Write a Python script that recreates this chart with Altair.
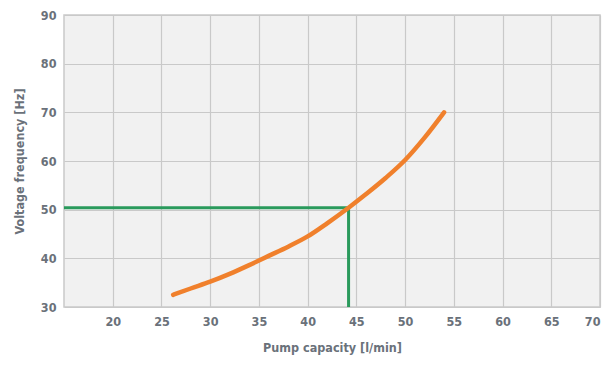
import altair as alt
import pandas as pd

# Orange curve: pump capacity [l/min] vs voltage frequency [Hz]
capacity = [26.2, 28, 30, 32, 34, 36, 38, 40, 42, 44.2, 46, 48, 50, 52, 54]
frequency = [32.5, 33.8, 35.2, 36.8, 38.6, 40.5, 42.4, 44.5, 47.2, 50.4, 53.2, 56.5, 60.2, 64.8, 70.0]

# Green marker lines (operating point)
op_capacity = [15, 44.2, 44.2]
op_frequency = [50.4, 50.4, 30]

x_ticks = [20, 25, 30, 35, 40, 45, 50, 55, 60, 65, 70]
y_ticks = [30, 40, 50, 60, 70, 80, 90]

curve_df = pd.DataFrame({"cap": capacity, "freq": frequency})
op_df = pd.DataFrame({"cap": op_capacity, "freq": op_frequency, "order": [0, 1, 2]})

label_color = "#6a717a"
font = "DejaVu Sans Condensed"

x_enc = alt.X("cap:Q", scale=alt.Scale(domain=[15, 70], nice=False, zero=False),
              axis=alt.Axis(values=x_ticks, title="Pump capacity [l/min]", grid=True,
                            gridColor="#c9c9c9", domain=False, ticks=False,
                            labelPadding=8, titlePadding=14))
y_enc = alt.Y("freq:Q", scale=alt.Scale(domain=[30, 90], nice=False, zero=False),
              axis=alt.Axis(values=y_ticks, title="Voltage frequency [Hz]", grid=True,
                            gridColor="#c9c9c9", domain=False, ticks=False,
                            labelPadding=8, titlePadding=14))

green = alt.Chart(op_df).mark_line(color="#2a9a5c", strokeWidth=3).encode(
    x=x_enc, y=y_enc, order="order:Q")

orange = alt.Chart(curve_df).mark_line(color="#f0802c", strokeWidth=4.5, strokeCap="round",
                                       interpolate="monotone").encode(x=x_enc, y=y_enc)

chart = (green + orange).properties(
    width=536, height=292,
    autosize=alt.AutoSizeParams(type="none"),
    padding={"left": 56, "top": 7, "right": 3, "bottom": 50},
    background="white",
).configure_view(
    fill="#f1f1f1", stroke="#c9c9c9", strokeWidth=1.5
).configure_axis(
    labelFont=font, titleFont=font, labelColor=label_color, titleColor=label_color,
    labelFontSize=12.5, titleFontSize=12.5, labelFontWeight="bold", titleFontWeight="bold",
    gridWidth=1.2
)

chart.save("out.html", embed_options={"renderer": "svg", "actions": False})
